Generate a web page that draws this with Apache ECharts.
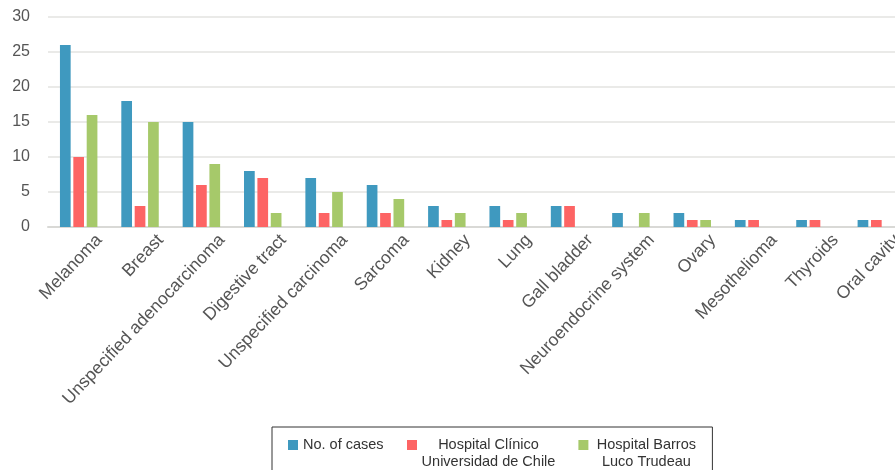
<!DOCTYPE html>
<html>
<head>
<meta charset="utf-8">
<script src="https://cdn.jsdelivr.net/npm/echarts@6/dist/echarts.min.js"></script>
<style>
    html, body { margin: 0; padding: 0; background: #fff; }
    #container { width: 895px; height: 470px; }
</style>
</head>
<body>
<div id="container"></div>
<script>

var categories = ['Melanoma', 'Breast', 'Unspecified adenocarcinoma', 'Digestive tract', 'Unspecified carcinoma',
    'Sarcoma', 'Kidney', 'Lung', 'Gall bladder', 'Neuroendocrine system', 'Ovary', 'Mesothelioma', 'Thyroids', 'Oral cavity'];

var casesVals = [26, 18, 15, 8, 7, 6, 3, 3, 3, 2, 2, 1, 1, 1];
var clinicoVals = [10, 3, 6, 7, 2, 2, 1, 1, 3, null, 1, 1, 1, 1];
var barrosVals = [16, 15, 9, 2, 5, 4, 2, 2, null, 2, 1, null, null, null];

var seriesNames = ['No. of cases', 'Hospital Clínico Universidad de Chile', 'Hospital Barros Luco Trudeau'];
var yTicks = [0, 30, 5]; // min, max, step

var labelFont = '"Liberation Sans", Arial, Helvetica, sans-serif';

// legend text: first line next to the icon, second line centered below
function legendText(name) {
    if (name === seriesNames[0]) {
        return '{n|No. of cases}\n{n| }';
    }
    if (name === seriesNames[1]) {
        return '{c|Hospital Clínico}\n{c|Universidad de Chile}';
    }
    return '{g|Hospital Barros}\n{g|Luco Trudeau}';
}

var tokenBase = { fontSize: 14.5, lineHeight: 17, color: '#333', fontFamily: labelFont };

var dom = document.getElementById("container");
var myChart = echarts.init(dom);

var option = {
    backgroundColor: '#fff',
    animation: false,
    grid: {
        left: 48,
        right: -12,
        top: 17,
        bottom: 243,
        outerBoundsMode: 'none'
    },
    legend: {
        left: 272,
        top: 427,
        padding: [10.5, 13, 10, 16],
        itemGap: 23,
        itemWidth: 10,
        itemHeight: 27,
        icon: 'path://M0,0h10v10h-10zM0,27h0',
        borderColor: '#333',
        borderWidth: 1,
        selectedMode: false,
        data: seriesNames,
        formatter: legendText,
        textStyle: {
            fontSize: 14.5,
            color: '#333',
            fontFamily: labelFont,
            rich: {
                n: Object.assign({ width: 81, align: 'left' }, tokenBase),
                c: Object.assign({ width: 133, align: 'center' }, tokenBase),
                g: Object.assign({ width: 106, align: 'center' }, tokenBase)
            }
        }
    },
    xAxis: [{
        type: 'category',
        data: categories,
        axisTick: { show: false },
        axisLine: {
            show: true,
            lineStyle: { color: '#d9d9d6', width: 2 }
        },
        axisLabel: {
            interval: 0,
            rotate: 46.5,
            margin: 32,
            padding: [0, -30, 0, 0],
            fontSize: 17.6,
            color: '#555',
            fontFamily: labelFont
        }
    }],
    yAxis: [{
        type: 'value',
        min: yTicks[0],
        max: yTicks[1],
        interval: yTicks[2],
        axisTick: { show: false },
        axisLine: { show: false },
        axisLabel: {
            margin: 18,
            fontSize: 16,
            color: '#555',
            fontFamily: labelFont
        },
        splitLine: {
            lineStyle: { color: '#e3e3e0', width: 1.5 }
        }
    }],
    series: [{
        name: seriesNames[0],
        type: 'bar',
        data: casesVals,
        barWidth: 10.7,
        barGap: '25%',
        itemStyle: { color: '#3f99bf' }
    }, {
        name: seriesNames[1],
        type: 'bar',
        data: clinicoVals,
        barWidth: 10.7,
        barGap: '25%',
        itemStyle: { color: '#fd6464' }
    }, {
        name: seriesNames[2],
        type: 'bar',
        data: barrosVals,
        barWidth: 10.7,
        barGap: '25%',
        itemStyle: { color: '#a6c96a' }
    }]
};

myChart.setOption(option, true);

</script>
</body>
</html>
